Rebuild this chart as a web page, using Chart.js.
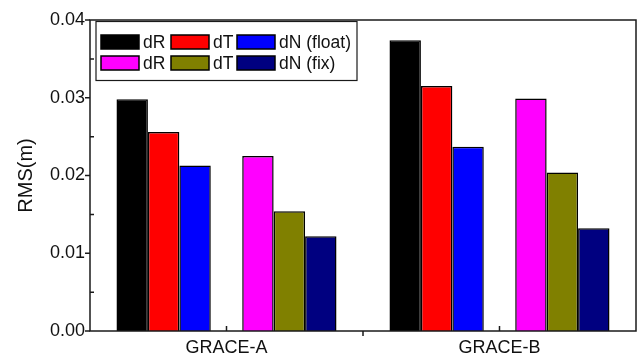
<!DOCTYPE html>
<html>
<head>
<meta charset="utf-8">
<script src="https://cdn.jsdelivr.net/npm/chart.js@4"></script>
<style>
  body { margin: 0; background: #fff; }
  #wrap { width: 637px; height: 357px; }
</style>
</head>
<body>
<div id="wrap"><canvas id="barChart"></canvas></div>
<script>
var categories = ['GRACE-A', 'GRACE-B'];
var seriesLabels = ['dR', 'dT', 'dN (float)', 'dR', 'dT', 'dN (fix)'];
var seriesColors = ['#000000', '#FF0000', '#0000FF', '#FF00FF', '#808000', '#000080'];

// float solution
var dRFloat = [0.0298, 0.0374];
var dTFloat = [0.0256, 0.0315];
var dNFloat = [0.0213, 0.0237];
// fixed solution
var dRFix = [0.0225, 0.0299];
var dTFix = [0.0154, 0.0204];
var dNFix = [0.0122, 0.0132];

var yTicks = [0, 0.01, 0.02, 0.03, 0.04];

var textColor = '#111';
var fontFamily = 'Arial, "Liberation Sans", sans-serif';

function bar(i, values) {
    return {
        label: seriesLabels[i],
        data: values,
        backgroundColor: seriesColors[i],
        borderColor: '#000',
        borderWidth: 1.5
    };
}

// empty slot between the two groups of three bars
var spacer = { label: '', data: [null, null], backgroundColor: 'rgba(0,0,0,0)', borderWidth: 0 };

var framePlugin = {
    id: 'frame',
    afterDraw: function(chart) {
        var ctx = chart.ctx;
        var a = chart.chartArea;
        var x = chart.scales.x, y = chart.scales.y;
        ctx.save();
        ctx.strokeStyle = '#1a1a1a';
        ctx.lineWidth = 1.5;
        ctx.strokeRect(a.left, a.top, a.right - a.left, a.bottom - a.top);

        ctx.beginPath();
        yTicks.forEach(function(v) {
            var py = y.getPixelForValue(v);
            ctx.moveTo(a.left - 5, py);
            ctx.lineTo(a.left, py);
        });
        for (var k = 0; k < yTicks.length - 1; k++) {
            var my = y.getPixelForValue((yTicks[k] + yTicks[k + 1]) / 2);
            ctx.moveTo(a.left, my);
            ctx.lineTo(a.left + 4, my);
        }
        categories.forEach(function(c, i) {
            var px = x.getPixelForValue(i);
            ctx.moveTo(px, a.bottom);
            ctx.lineTo(px, a.bottom - 5);
            if (i > 0) {
                var bx = (px + x.getPixelForValue(i - 1)) / 2;
                ctx.moveTo(bx, a.bottom);
                ctx.lineTo(bx, a.bottom + 5);
            }
        });
        ctx.stroke();
        ctx.restore();
    }
};

var legendPlugin = {
    id: 'boxLegend',
    afterDraw: function(chart) {
        var ctx = chart.ctx;
        var a = chart.chartArea;
        var bx = a.left + 6, by = a.top + 1.5;
        var colX = [5, 75, 141];
        var rowY = [20.5, 41.5];
        ctx.save();
        ctx.strokeStyle = '#1a1a1a';
        ctx.lineWidth = 1.2;
        ctx.strokeRect(bx, by, 261, 59);
        ctx.font = '17.5px ' + fontFamily;
        ctx.textBaseline = 'middle';
        seriesLabels.forEach(function(lbl, i) {
            var sx = bx + colX[i % 3];
            var sy = by + rowY[Math.floor(i / 3)];
            ctx.fillStyle = seriesColors[i];
            ctx.fillRect(sx, sy - 7, 38, 14);
            ctx.lineWidth = 1.5;
            ctx.strokeStyle = '#000';
            ctx.strokeRect(sx, sy - 7, 38, 14);
            ctx.fillStyle = textColor;
            ctx.fillText(lbl, sx + 42, sy + 1);
        });
        ctx.restore();
    }
};

var chart = new Chart(document.getElementById('barChart').getContext('2d'), {
    type: 'bar',
    data: {
        labels: categories,
        datasets: [
            bar(0, dRFloat), bar(1, dTFloat), bar(2, dNFloat),
            spacer,
            bar(3, dRFix), bar(4, dTFix), bar(5, dNFix)
        ]
    },
    options: {
        responsive: true,
        maintainAspectRatio: false,
        animation: false,
        datasets: {
            bar: { categoryPercentage: 0.806, barPercentage: 1 }
        },
        layout: {
            padding: { left: 0, top: 20, right: 1, bottom: 0 }
        },
        plugins: {
            legend: { display: false },
            tooltip: { enabled: false }
        },
        scales: {
            x: {
                offset: true,
                grid: { display: false, drawTicks: false },
                border: { display: false },
                ticks: { color: textColor, padding: 6, font: { size: 18, family: fontFamily } },
                afterFit: function(s) { s.height = 26; }
            },
            y: {
                min: 0,
                max: 0.04,
                grid: { display: false, drawTicks: false },
                border: { display: false },
                afterBuildTicks: function(s) {
                    s.ticks = yTicks.map(function(v) { return { value: v }; });
                },
                ticks: {
                    color: textColor,
                    padding: 5,
                    font: { size: 18, family: fontFamily },
                    callback: function(v) { return v.toFixed(2); }
                },
                title: {
                    display: true,
                    text: 'RMS(m)',
                    color: textColor,
                    font: { size: 20, family: fontFamily },
                    padding: { top: 14, bottom: 0 }
                },
                afterFit: function(s) { s.width = 90; }
            }
        }
    },
    plugins: [framePlugin, legendPlugin]
});
</script>
</body>
</html>
